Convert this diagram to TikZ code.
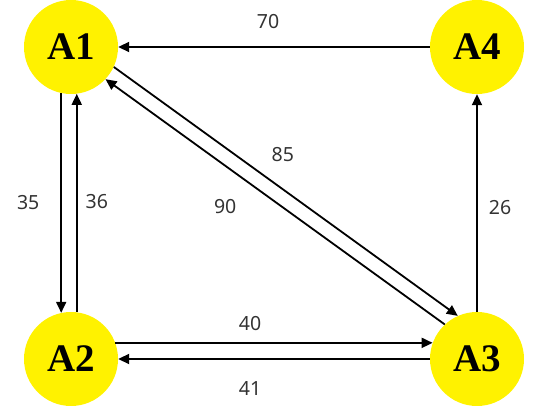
\documentclass[tikz,border=0pt]{standalone}
\usepackage{fontspec}
\setmainfont{Liberation Serif}
\newfontfamily\numfont{Noto Sans}
\usetikzlibrary{arrows.meta,positioning,calc}
\tikzset{
city/.style = {circle, fill=yellow, inner sep=0pt, minimum size=94pt, font=\fontsize{39}{39}\selectfont\bfseries},
lbl/.style  = {inner sep=0pt, text=black!80, font=\numfont\fontsize{19.5}{19.5}\selectfont},
road/.style = {->, line width=1.8pt}
}

\begin{document}
\begin{tikzpicture}[x=1pt, y=1pt, >={Triangle[length=11pt,width=10pt]}]
    \useasboundingbox (0,0) rectangle (550,409);
    \node [city] (A1) at (71,362) {A1};
    \node [city, right of=A1, node distance=406pt] (A4) {A4};
    \node [city, below of=A1, node distance=312pt] (A2) {A2};
    \node [city, right of=A2, node distance=406pt] (A3) {A3};
    \draw [road] (A4.west) -- node[lbl, xshift=-6pt, yshift=25pt]{70} (A1.east);
    \draw [road] (A1.-102) -- node[lbl, xshift=-33pt]{35} (A2.102);
    \draw [road] (A2.83) -- node[lbl, xshift=20pt, yshift=1pt]{36} (A1.-83);
    \draw [road] (A3.north) -- node[lbl, xshift=23pt, yshift=-5pt]{26} (A4.south);
    \draw [road] (A2.20) -- node[lbl, xshift=-24pt, yshift=19pt]{40} (A3.160);
    \draw [road] (A3.west) -- node[lbl, xshift=-24pt, yshift=-30pt]{41} (A2.east);
    \draw [road] (A1.-25) -- node[lbl, xshift=-3pt, yshift=37pt]{85} (A3.114);
    \draw [road] (A3.133) -- node[lbl, xshift=-50pt, yshift=-5pt]{90} (A1.-43);
\end{tikzpicture}
\end{document}
